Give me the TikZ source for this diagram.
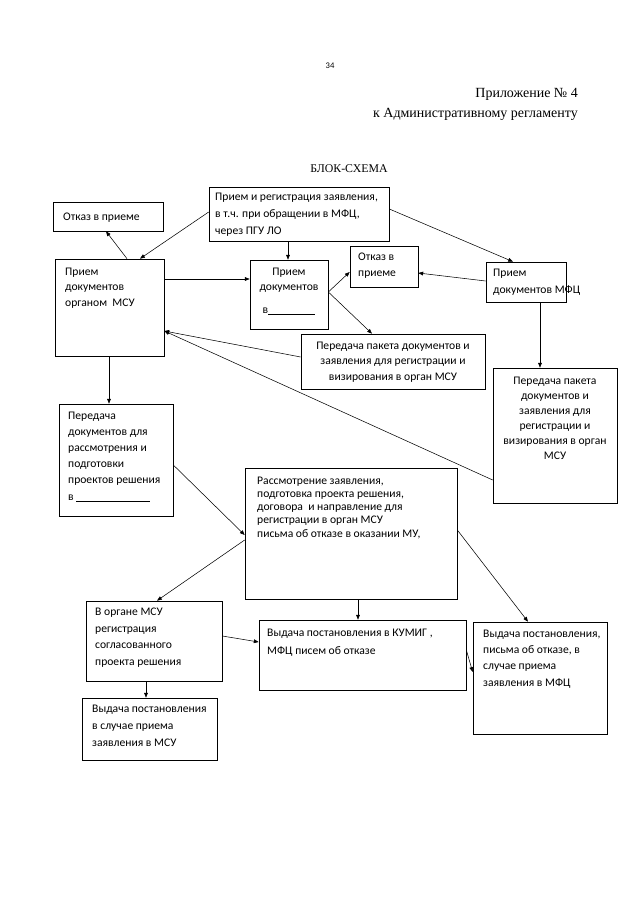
\documentclass[tikz,border=0pt]{standalone}
\usepackage{fontspec}
\setmainfont{Liberation Serif}
\newfontfamily\boxfont{Carlito}
\usetikzlibrary{fit,arrows.meta}
\begin{document}
\begin{tikzpicture}[x=0.93012pt,y=-0.93012pt,
  box/.style={draw, line width=0.6pt, inner sep=0pt},
  txt/.style={inner sep=0pt, align=left, anchor=base west},
  ctr/.style={inner sep=0pt, align=center, anchor=base},
  fs/.style={font={\boxfont\fontsize{10.8pt}{#1pt}\selectfont}},
  arr/.style={-{Triangle[length=4.5pt,width=3.5pt]}, line width=0.5pt}]
\fill[white] (0,0) rectangle (640,905);
\useasboundingbox (0,0) rectangle (640,905);

% header
\node[inner sep=0pt, anchor=base, font={\boxfont\fontsize{8pt}{9pt}\selectfont}] (pg) at (330,68) {34};
\node[inner sep=0pt, anchor=base east, font={\fontsize{13pt}{15pt}\selectfont}] (h1) at (578,97) {Приложение № 4};
\node[inner sep=0pt, anchor=base east, font={\fontsize{13pt}{15pt}\selectfont}] (h2) at (578,117) {к Административному регламенту};
\node[inner sep=0pt, anchor=base, font={\fontsize{11pt}{13pt}\selectfont}] (ttl) at (349,172) {БЛОК-СХЕМА};

% boxes
\node[box, fit={(209,187)(389,241)}] (top) {};
\node[box, fit={(53,202)(163,231)}] (otk1) {};
\node[box, fit={(55,259)(164,356)}] (msu) {};
\node[box, fit={(250,260)(328,329)}] (pd) {};
\node[box, fit={(350,246)(418,287)}] (otk2) {};
\node[box, fit={(486,262)(566,302)}] (mfc) {};
\node[box, fit={(301,334)(485,389)}] (per1) {};
\node[box, fit={(493,368)(617,503)}] (per2) {};
\node[box, fit={(59,404)(173,516)}] (pdr) {};
\node[box, fit={(245,468)(457,599)}] (ras) {};
\node[box, fit={(86,601)(222,681)}] (reg) {};
\node[box, fit={(259,620)(466,690)}] (vk) {};
\node[box, fit={(473,622)(607,734)}] (vm) {};
\node[box, fit={(82,698)(217,760)}] (vmsu) {};

% texts (anchored at the baseline of their last line)
\node[txt, fs=15.8] (top-t) at (215,234) {Прием и регистрация заявления,\\в т.ч. при обращении в МФЦ,\\через ПГУ ЛО};
\node[txt, fs=14] (otk1-t) at (63,220) {Отказ в приеме};
\node[txt, fs=14] (msu-t) at (65,306) {Прием\\документов\\органом\ \ МСУ};
\node[ctr, fs=14] (pd-t) at (289,313) {Прием\\документов\\[7pt]в\rule[-1.5pt]{44pt}{0.4pt}};
\node[txt, fs=14] (otk2-t) at (358,276) {Отказ в\\приеме};
\node[txt, fs=15.8] (mfc-t) at (493,293) {Прием\\документов МФЦ};
\node[ctr, fs=14] (per1-t) at (393,380) {Передача пакета документов и\\заявления для регистрации и\\визирования в орган МСУ};
\node[ctr, fs=13.8] (per2-t) at (555,459) {Передача пакета\\документов и\\заявления для\\регистрации и\\визирования в орган\\МСУ};
\node[txt, fs=15] (pdr-t) at (68,500) {Передача\\документов для\\рассмотрения и\\подготовки\\проектов решения\\в \rule[-1.5pt]{68pt}{0.4pt}};
\node[txt, fs=12.3] (ras-t) at (257,537) {Рассмотрение заявления,\\подготовка проекта решения,\\договора\ \ и направление для\\регистрации в орган МСУ\\письма об отказе в оказании МУ,};
\node[txt, fs=15.2] (reg-t) at (95,665) {В органе МСУ\\регистрация\\согласованного\\проекта решения};
\node[txt, fs=16.7] (vk-t) at (267,654) {Выдача постановления в КУМИГ ,\\МФЦ писем об отказе};
\node[txt, fs=15] (vm-t) at (483,686) {Выдача постановления,\\письма об отказе, в\\случае приема\\заявления в МФЦ};
\node[txt, fs=15.5] (vmsu-t) at (92,746) {Выдача постановления\\в случае приема\\заявления в МСУ};

% connectors
\draw[arr] (top.west |- 0,212) -- (msu.north -| 140,0);
\draw[arr] (msu.north -| 127,0) -- (otk1.south -| 106,0);
\draw[arr] (top.south -| 288,0) -- (pd.north -| 288,0);
\draw[arr] (top.east |- 0,209) -- (mfc.north -| 513,0);
\draw[arr] (msu.east |- 0,279) -- (pd.west |- 0,279);
\draw[arr] (pd.east |- 0,292) -- (otk2.west |- 0,272);
\draw[arr] (pd.east |- 0,292) -- (per1.north -| 372,0);
\draw[arr] (mfc.west |- 0,281) -- (otk2.east |- 0,273);
\draw[arr] (mfc.south -| 540,0) -- (per2.north -| 540,0);
\draw[arr] (per1.west |- 0,357) -- (msu.east |- 0,331);
\draw[arr] (per2.west |- 0,480) -- (msu.east |- 0,331);
\draw[arr] (msu.south -| 109,0) -- (pdr.north -| 109,0);
\draw[arr] (pdr.east |- 0,465) -- (ras.west |- 0,535);
\draw[arr] (ras.west |- 0,540) -- (reg.north -| 157,0);
\draw[arr] (ras.south -| 358,0) -- (vk.north -| 358,0);
\draw[arr] (ras.east |- 0,530) -- (vm.north -| 528,0);
\draw[arr] (reg.east |- 0,636) -- (vk.west |- 0,642);
\draw[arr] (vk.east |- 0,650) -- (vm.west |- 0,672);
\draw[arr] (reg.south -| 146,0) -- (vmsu.north -| 146,0);
\end{tikzpicture}
\end{document}
